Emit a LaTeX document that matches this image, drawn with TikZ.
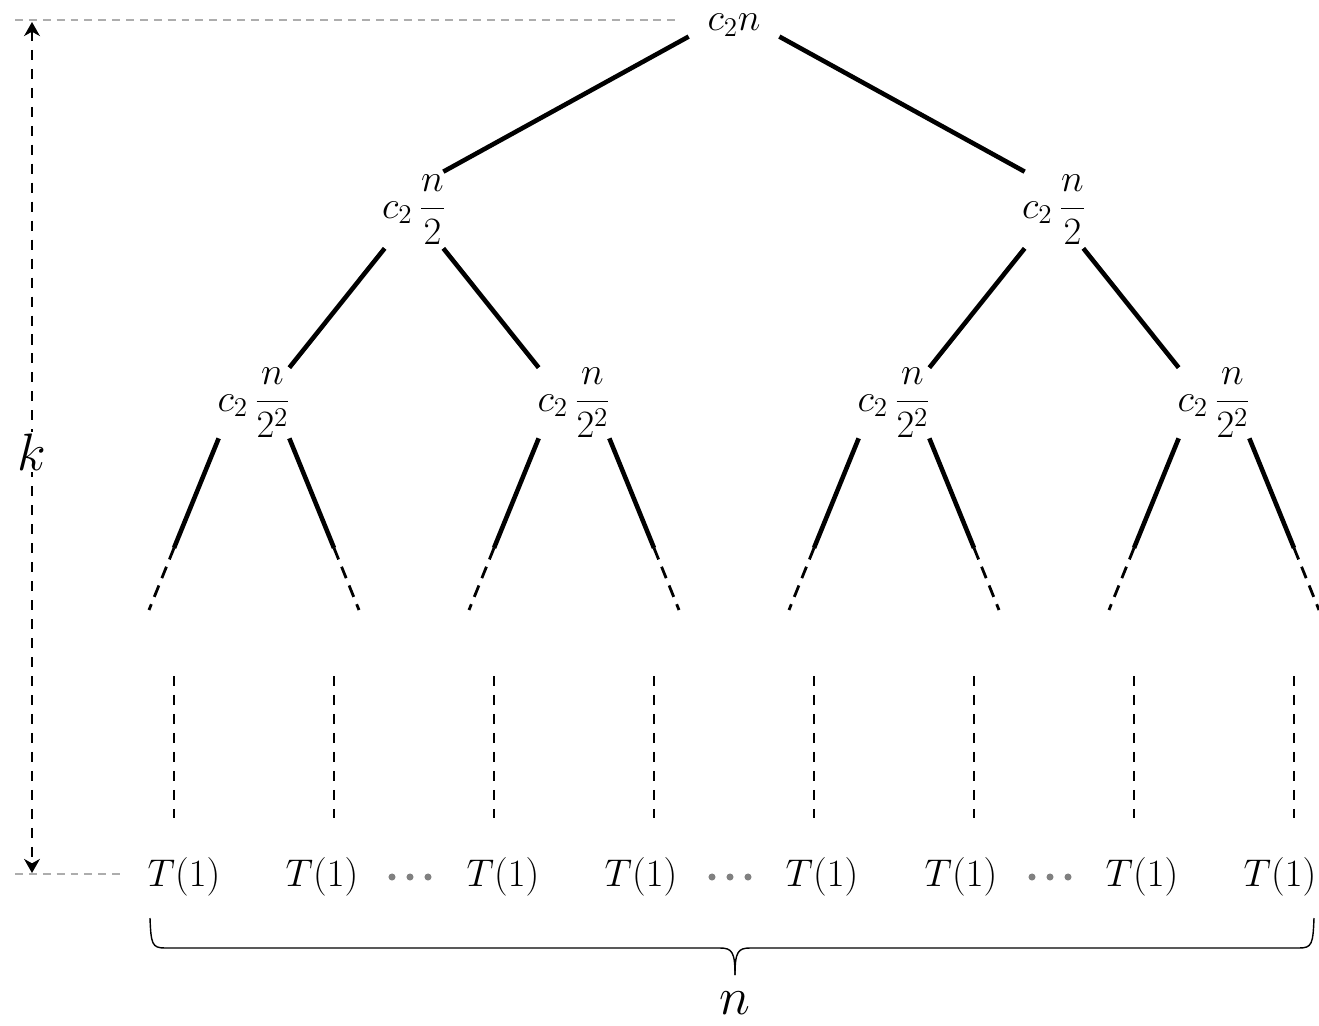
\RequirePackage{fix-cm}
\documentclass[tikz,border=0pt]{standalone}
\usepackage{amsmath, amssymb}
\usepackage{tikz}
\usetikzlibrary{arrows.meta, positioning, calc}
\definecolor{silvergray}{rgb}{0.68, 0.68, 0.68}
\definecolor{dotgray}{rgb}{0.50, 0.50, 0.50}

\begin{document}
\begin{tikzpicture}[>={Stealth[length=8pt, width=9pt, inset=2.5pt]}, x=0.02cm, y=-0.02cm,
        treetext/.style={inner sep=0pt, font=\fontsize{22}{26}\selectfont},
        rootnode/.style={treetext, minimum width=1.8cm, minimum height=0.4cm},
        halfnode/.style={treetext, inner xsep=-6pt, inner ysep=-2pt, minimum width=1.16cm, minimum height=1.52cm},
        quarternode/.style={treetext, inner xsep=-6pt, inner ysep=-2pt, minimum width=1.4cm, minimum height=1.4cm},
        branch/.style={line width=2.6pt},
        fadebranch/.style={line width=1.6pt, dash pattern=on 7pt off 4.5pt},
        leafline/.style={line width=1.6pt, dash pattern=on 5.7pt off 5.1pt},
        guideline/.style={silvergray, line width=0.8pt, dash pattern=on 4.5pt off 3.4pt}]
        \useasboundingbox (0,0) rectangle (1319,1025);

        % Root and the two levels below it
        \node [rootnode] (root) at (734,25) {$c_2 n$};
        \node [halfnode] (ha) at (414,210) {$c_2\,\dfrac{n}{2}$};
        \node [halfnode] (hb) at (1054,210) {$c_2\,\dfrac{n}{2}$};
        \node [quarternode] (qa) at (254,403) {$c_2\,\dfrac{n}{2^2}$};
        \node [quarternode] (qb) at (574,403) {$c_2\,\dfrac{n}{2^2}$};
        \node [quarternode] (qc) at (894,403) {$c_2\,\dfrac{n}{2^2}$};
        \node [quarternode] (qd) at (1214,403) {$c_2\,\dfrac{n}{2^2}$};

        % Branches
        \draw [branch] (root.south west) -- (ha.north east);
        \draw [branch] (root.south east) -- (hb.north west);
        \draw [branch] (ha.south west) -- (qa.north east);
        \draw [branch] (ha.south east) -- (qb.north west);
        \draw [branch] (hb.south west) -- (qc.north east);
        \draw [branch] (hb.south east) -- (qd.north west);

        % Branches fading out below the last level
        \foreach \q/\x in {qa/254, qb/574, qc/894, qd/1214} {
            \coordinate (\q-l) at (\x-80,548);
            \coordinate (\q-r) at (\x+80,548);
            \coordinate (\q-ll) at (\x-105,610);
            \coordinate (\q-rr) at (\x+105,610);
            \draw [branch] (\q.south west) -- (\q-l);
            \draw [branch] (\q.south east) -- (\q-r);
            \draw [fadebranch] (\q-l) -- (\q-ll);
            \draw [fadebranch] (\q-r) -- (\q-rr);
        }

        % Vertical dashes down to the leaves
        \foreach \x [count=\i] in {174, 334, 494, 654, 814, 974, 1134, 1294} {
            \coordinate (top\i) at (\x,676);
            \coordinate (bot\i) at (\x,818);
            \draw [leafline] (top\i) -- (bot\i);
        }

        % Leaves
        \foreach \x [count=\i] in {184, 322, 503, 641, 822, 961, 1142, 1280}
            \node [treetext] (t\i) at (\x,877) {$T(1)$};
        \foreach \x in {392, 410, 428, 712, 730, 748, 1032, 1050, 1068}
            \fill [dotgray] (\x,877) circle (2pt);

        % Height k
        \coordinate (ktop) at (32,22);
        \coordinate (kbot) at (32,873);
        \draw [<->, line width=1.4pt, dash pattern=on 5.7pt off 5.1pt] (ktop) -- (kbot);
        \node [fill=white, inner sep=1pt, font=\fontsize{30}{34}\selectfont] (klab) at (32,452) {$k$};
        \coordinate (gtop) at (15,20);
        \coordinate (gtopend) at (680,20);
        \coordinate (gbot) at (15,874);
        \coordinate (gbotend) at (120,874);
        \draw [guideline] (gtop) -- (gtopend);
        \draw [guideline] (gbot) -- (gbotend);

        % Brace over the leaves
        \draw [line width=0.8pt] (150,918) .. controls (151,944) and (152,948) .. (165,948) -- (720,948)
            .. controls (732,948) and (735,952) .. (735,975);
        \draw [line width=0.8pt] (1314,918) .. controls (1313,944) and (1312,948) .. (1299,948) -- (750,948)
            .. controls (738,948) and (735,952) .. (735,975);
        \node [font=\fontsize{30}{34}\selectfont] (nlab) at (735,1003) {$n$};
    \end{tikzpicture}
\end{document}
